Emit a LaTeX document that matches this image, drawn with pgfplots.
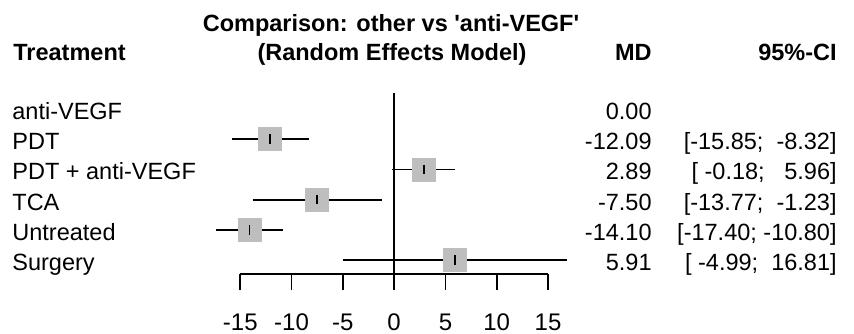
\documentclass[border=0pt]{standalone}
\usepackage{fontspec}
\setmainfont{Liberation Sans}
\usepackage{pgfplots}
\pgfplotsset{compat=1.18}
\definecolor{sqgray}{RGB}{190,190,190}
\begin{document}
\begin{tikzpicture}[font=\fontsize{11.75}{14}\selectfont]
\useasboundingbox (0,0) rectangle (427pt,-166.5pt);
\begin{axis}[
  at={(120.15pt,-137pt)}, anchor=south west,
  scale only axis, width=153.85pt, height=97.6pt,
  xmin=-15, xmax=15, ymin=-6.46, ymax=0,
  clip=false, enlargelimits=false,
  axis x line*=bottom, axis y line=none,
  xtick={-15,-10,-5,0,5,10,15}, xticklabels={-15,-10,-5,0,5,10,15},
  ytick=\empty,
  tick align=outside, major tick length=8pt,
  axis line style={black, line width=0.85pt},
  tick style={black, line width=0.85pt},
  xticklabel style={font=\fontsize{12}{14}\selectfont, yshift=-8.5pt},
]
\addplot[black, line width=0.85pt] coordinates {(0,-0.47) (0,-6.46)};
\addplot[only marks, mark=square*, mark size=5.75pt, color=sqgray] coordinates {(-12.09,-2) (2.89,-3) (-7.50,-4) (-14.10,-5) (5.91,-6)};
\addplot[black, line width=0.85pt] coordinates {(-15.85,-2) (-8.32,-2)};
\addplot[black, line width=0.85pt] coordinates {(-0.18,-3) (5.96,-3)};
\addplot[black, line width=0.85pt] coordinates {(-13.77,-4) (-1.23,-4)};
\addplot[black, line width=0.85pt] coordinates {(-17.40,-5) (-10.80,-5)};
\addplot[black, line width=0.85pt] coordinates {(-4.99,-6) (16.81,-6)};
\addplot[only marks, mark=|, mark size=2.4pt, black, mark options={line width=0.85pt}] coordinates {(-12.09,-2) (2.89,-3) (-7.50,-4) (-14.10,-5) (5.91,-6)};
\end{axis}
% headers
\node[anchor=base west, inner sep=0pt, font=\fontsize{11.75}{14}\selectfont\bfseries] at (6.5pt,-30pt) {Treatment};
\node[anchor=base, inner sep=0pt, font=\fontsize{11.75}{14}\selectfont\bfseries] at (195.5pt,-15.5pt) {Comparison: other vs \textquotesingle anti-VEGF\textquotesingle};
\node[anchor=base, inner sep=0pt, font=\fontsize{11.75}{14}\selectfont\bfseries] at (196pt,-30pt) {(Random Effects Model)};
\node[anchor=base east, inner sep=0pt, font=\fontsize{11.75}{14}\selectfont\bfseries] at (326pt,-30pt) {MD};
\node[anchor=base east, inner sep=0pt, font=\fontsize{11.75}{14}\selectfont\bfseries] at (418.5pt,-30pt) {95\%-CI};
% rows
\foreach \y/\lab/\md/\ci in {
  -59.75/anti-VEGF/0.00/{},
  -74.85/PDT/-12.09/{[-15.85;\ \ -8.32]},
  -89.95/PDT + anti-VEGF/2.89/{[\ -0.18;\ \ \ 5.96]},
  -105.05/TCA/-7.50/{[-13.77;\ \ -1.23]},
  -120.15/Untreated/-14.10/{[-17.40;\ -10.80]},
  -135.25/Surgery/5.91/{[\ -4.99;\ \ 16.81]}} {
  \node[anchor=base west, inner sep=0pt] at (6pt,\y pt) {\lab};
  \node[anchor=base east, inner sep=0pt] at (326pt,\y pt) {\md};
  \node[anchor=base east, inner sep=0pt] at (418.5pt,\y pt) {\ci};
}
\end{tikzpicture}
\end{document}
